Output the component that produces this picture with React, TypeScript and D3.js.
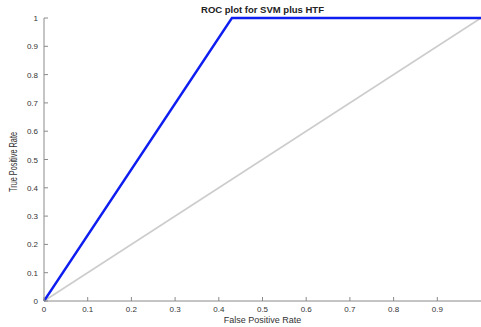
import React from "react";
import * as d3 from "d3";

const rocFpr = [0, 0.43, 1];
const rocTpr = [0, 1, 1];
const chanceFpr = [0, 1];
const chanceTpr = [0, 1];
const xTicks = [0, 0.1, 0.2, 0.3, 0.4, 0.5, 0.6, 0.7, 0.8, 0.9];
const yTicks = [0, 0.1, 0.2, 0.3, 0.4, 0.5, 0.6, 0.7, 0.8, 0.9, 1];
const title = "ROC plot for SVM plus HTF";
const xLabel = "False Positive Rate";
const yLabel = "True Positive Rate";

export default function App() {
  const W = 481, H = 327;
  const x = d3.scaleLinear().domain([0, 1]).range([44, 481]);
  const y = d3.scaleLinear().domain([0, 1]).range([301, 18]);
  const line = d3.line<[number, number]>().x(d => x(d[0])).y(d => y(d[1]));
  const roc = rocFpr.map((v, i) => [v, rocTpr[i]] as [number, number]);
  const chance = chanceFpr.map((v, i) => [v, chanceTpr[i]] as [number, number]);
  const font = "Liberation Sans, Arial, sans-serif";
  const fmt = (v: number) => (v === 0 || v === 1 ? String(v) : v.toFixed(1));
  return (
    <svg width={W} height={H} style={{ position: "absolute", left: 0, top: 0 }} fontFamily={font}>
      <rect width={W} height={H} fill="white" />
      <path d={line(chance) || ""} fill="none" stroke="#cccccc" strokeWidth={1.6} />
      <path d={line(roc) || ""} fill="none" stroke="#0f1ef0" strokeWidth={2.4} />
      <line x1={x(0)} x2={x(0)} y1={y(0)} y2={y(1)} stroke="#8a8a8a" strokeWidth={1} />
      <line x1={x(0)} x2={x(1)} y1={y(0)} y2={y(0)} stroke="#8a8a8a" strokeWidth={1} />
      {yTicks.map(t => (
        <g key={"y" + t}>
          <line x1={x(0)} x2={x(0) + 4} y1={y(t)} y2={y(t)} stroke="#8a8a8a" />
          <text x={38} y={y(t) + 3} fontSize={8} textAnchor="end" fill="#333">{fmt(t)}</text>
        </g>
      ))}
      {xTicks.map(t => (
        <g key={"x" + t}>
          <line x1={x(t)} x2={x(t)} y1={y(0)} y2={y(0) - 4} stroke="#8a8a8a" />
          <text x={x(t)} y={312} fontSize={8} textAnchor="middle" fill="#333">{fmt(t)}</text>
        </g>
      ))}
      <text x={262.5} y={13} fontSize={9.5} fontWeight="bold" textAnchor="middle" fill="#222">{title}</text>
      <text x={262.5} y={323} fontSize={9} textAnchor="middle" fill="#333">{xLabel}</text>
      <text transform="translate(17,162) rotate(-90)" fontSize={10} textAnchor="middle" fill="#333"
        textLength={60} lengthAdjust="spacingAndGlyphs">{yLabel}</text>
    </svg>
  );
}
